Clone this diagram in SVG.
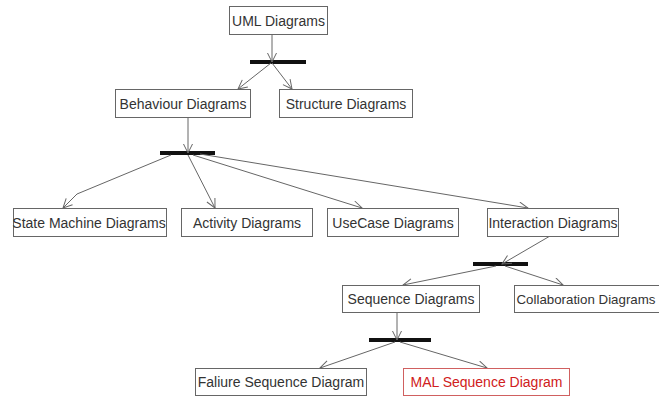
<svg xmlns="http://www.w3.org/2000/svg" width="659" height="396" viewBox="0 0 659 396">
<style>
.box rect{fill:#fff;stroke:#666;stroke-width:1}
.box text{font-family:"Liberation Sans",Arial,sans-serif;font-size:14px;fill:#333;text-anchor:middle}
.red rect{stroke:#d06060}
.red text{fill:#d02020}
.bar{stroke:#111;stroke-width:4}
.con{fill:none;stroke:#666;stroke-width:1;marker-end:url(#arr)}
</style>
<defs>
<marker id="arr" markerWidth="12" markerHeight="12" refX="10" refY="5" orient="auto" markerUnits="userSpaceOnUse">
<path d="M1,0.5 L10,5 L1,9.5" fill="none" stroke="#666" stroke-width="1"/>
</marker>
</defs>
<g id="bars">
<line class="bar" x1="250" y1="62" x2="306" y2="62"/>
<line class="bar" x1="160" y1="153" x2="215" y2="153"/>
<line class="bar" x1="473" y1="264" x2="528" y2="264"/>
<line class="bar" x1="369" y1="340" x2="431" y2="340"/>
</g>
<g id="connectors">
<path class="con" d="M272,34 L272,62"/>
<path class="con" d="M271,63 L238,89"/>
<path class="con" d="M272,63 L292,89"/>
<path class="con" d="M188,118 L188,153"/>
<path class="con" d="M171,155 L77,194 L63,208"/>
<path class="con" d="M188,155 L215,208"/>
<path class="con" d="M193,155 L362,208"/>
<path class="con" d="M200,154 L528,208"/>
<path class="con" d="M550,236 L502,264"/>
<path class="con" d="M496,266 L403,285"/>
<path class="con" d="M505,266 L563,285"/>
<path class="con" d="M397,312 L397,340"/>
<path class="con" d="M395,342 L320,368"/>
<path class="con" d="M400,342 L487,368"/>
</g>
<g id="uml" class="box"><rect x="229.5" y="6.5" width="98" height="28"/><text x="278.5" y="26">UML Diagrams</text></g>
<g id="behaviour" class="box"><rect x="115.5" y="89.5" width="135" height="28"/><text x="183" y="109">Behaviour Diagrams</text></g>
<g id="structure" class="box"><rect x="279.5" y="89.5" width="133" height="28"/><text x="346" y="109">Structure Diagrams</text></g>
<g id="statemachine" class="box"><rect x="13.5" y="208.5" width="153" height="28"/><text x="89" y="228">State Machine Diagrams</text></g>
<g id="activity" class="box"><rect x="181.5" y="208.5" width="131" height="28"/><text x="247" y="228">Activity Diagrams</text></g>
<g id="usecase" class="box"><rect x="327.5" y="208.5" width="131" height="28"/><text x="393" y="228">UseCase Diagrams</text></g>
<g id="interaction" class="box"><rect x="487.5" y="208.5" width="131" height="28"/><text x="553" y="228">Interaction Diagrams</text></g>
<g id="sequence" class="box"><rect x="342.5" y="285.5" width="137" height="27"/><text x="411" y="304">Sequence Diagrams</text></g>
<g id="collaboration" class="box"><rect x="514.5" y="285.5" width="160" height="27"/><text x="516.5" y="304" style="text-anchor:start;font-size:13.3px">Collaboration Diagrams</text></g>
<g id="failure" class="box"><rect x="195.5" y="368.5" width="171" height="27"/><text x="281" y="387">Faliure Sequence Diagram</text></g>
<g id="mal" class="box red"><rect x="403.5" y="368.5" width="166" height="27"/><text x="486.5" y="387">MAL Sequence Diagram</text></g>
</svg>
